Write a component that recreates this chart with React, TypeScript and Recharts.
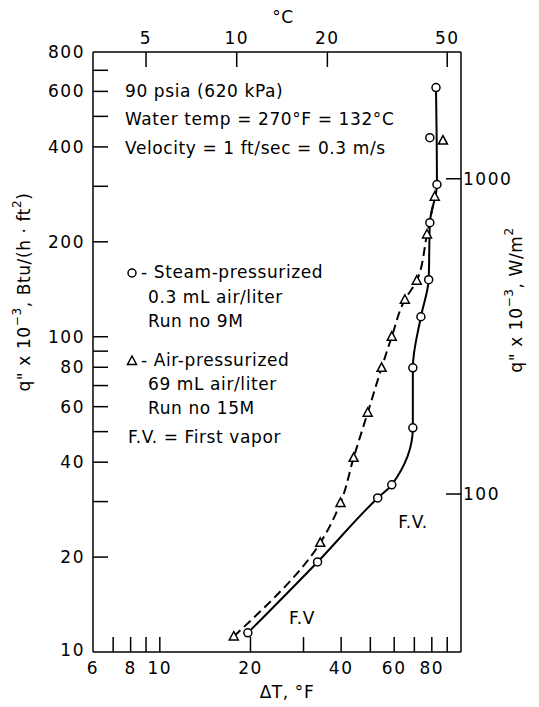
import React from 'react';
import { ComposedChart, Line, Scatter, XAxis, YAxis } from 'recharts';

// steam-pressurized run (circles), deltaT in F, q" x 10^-3 Btu/(h ft2)
const steamDT = [19.6, 33.4, 52.9, 58.9, 69.2, 69.2, 73.6, 78.1, 78.8, 83.2, 78.8, 82.6];
const steamQ = [11.5, 19.3, 30.8, 33.9, 51.4, 79.7, 115.7, 151.7, 230, 304, 428, 617];
// points the drawn steam curve passes through (off-curve point left out)
const steamCurveIdx = [0, 1, 2, 3, 4, 5, 6, 7, 8, 9, 11];

// air-pressurized run (triangles)
const airDT = [17.6, 34.1, 39.8, 44.0, 49.0, 54.5, 58.9, 65.1, 71.3, 77.1, 81.8, 87.1];
const airQ = [11.2, 22.2, 29.7, 41.3, 57.4, 79.7, 100, 131, 150.6, 211, 278, 419];
const airCurveIdx = [0, 1, 2, 3, 4, 5, 6, 7, 8, 9, 10];

const xTicks = [6, 7, 8, 9, 10, 20, 30, 40, 50, 60, 70, 80, 90];
const xLabels = [6, 8, 10, 20, 40, 60, 80];
const yTicks = [10, 20, 30, 40, 50, 60, 70, 80, 90, 100, 200, 300, 400, 500, 600, 700, 800];
const yLabels = [10, 20, 40, 60, 80, 100, 200, 400, 600, 800];
const cTicks = [5, 10, 20, 50];
const wTicks = [100, 1000];

const F_PER_C = 1.8;
const W_PER_BTU = 3.1546;

const steamPts = steamDT.map((x, i) => ({ x, y: steamQ[i] }));
const airPts = airDT.map((x, i) => ({ x, y: airQ[i] }));
const steamCurve = steamCurveIdx.map(i => steamPts[i]);
const airCurve = airCurveIdx.map(i => airPts[i]);

const L = 93, R = 461, T = 52, B = 652;
const FONT = '"DejaVu Sans", sans-serif';
const tickText = { fontFamily: FONT, fontSize: 17, letterSpacing: 1.5, fill: '#000' };

const Circ = (p: any) => (
  <circle cx={p.cx} cy={p.cy} r={4} fill="#fff" stroke="#000" strokeWidth={1.5} />
);
const Tri = (p: any) => (
  <path
    d={`M${p.cx},${p.cy - 5} L${p.cx + 4.5},${p.cy + 3.5} L${p.cx - 4.5},${p.cy + 3.5} Z`}
    fill="#fff" stroke="#000" strokeWidth={1.5}
  />
);
const Nothing = () => <g />;

const BottomTick = (p: any) => {
  const v = p.payload.value;
  return (
    <g>
      {v !== 6 && <line x1={p.x} x2={p.x} y1={B} y2={B - 15} stroke="#000" strokeWidth={1.5} />}
      {xLabels.includes(v) && (
        <text x={p.x} y={B + 16} textAnchor="middle" dominantBaseline="central" {...tickText}>{v}</text>
      )}
    </g>
  );
};

const TopTick = (p: any) => {
  const v = Math.round(p.payload.value / F_PER_C);
  return (
    <g>
      <line x1={p.x} x2={p.x} y1={T} y2={T + 15} stroke="#000" strokeWidth={1.5} />
      <text x={p.x} y={T - 14} textAnchor="middle" dominantBaseline="central" {...tickText}>{v}</text>
    </g>
  );
};

const LeftTick = (p: any) => {
  const v = p.payload.value;
  return (
    <g>
      {v !== 10 && v !== 800 && <line x1={L} x2={L + 15} y1={p.y} y2={p.y} stroke="#000" strokeWidth={1.5} />}
      {yLabels.includes(v) && (
        <text x={L - 8} y={v === 10 ? p.y - 2 : p.y} textAnchor="end" dominantBaseline="central" {...tickText}>{v}</text>
      )}
    </g>
  );
};

const RightTick = (p: any) => {
  const v = Math.round(p.payload.value * W_PER_BTU);
  return (
    <g>
      <line x1={R - 15} x2={R} y1={p.y} y2={p.y} stroke="#000" strokeWidth={1.5} />
      <text x={R + 2} y={p.y} textAnchor="start" dominantBaseline="central" {...tickText}>{v}</text>
    </g>
  );
};

const note = { fontFamily: FONT, fontSize: 17, letterSpacing: 0.6, fill: '#000' };

export default function App() {
  return (
    <div style={{ position: 'absolute', left: 0, top: 0, width: 539, height: 707, background: '#fff' }}>
      <ComposedChart width={539} height={707} margin={{ top: 22, right: 18, bottom: 25, left: 33 }}>
        <XAxis
          xAxisId="bottom" dataKey="x" type="number" scale="log" domain={[6, 100]} allowDataOverflow
          ticks={xTicks} interval={0} tickSize={0} tick={<BottomTick />} height={30}
          axisLine={{ stroke: '#000', strokeWidth: 1.5 }}
        />
        <XAxis
          xAxisId="top" dataKey="x" orientation="top" type="number" scale="log" domain={[6, 100]} allowDataOverflow
          ticks={cTicks.map(c => c * F_PER_C)} interval={0} tickSize={0} tick={<TopTick />} height={30}
          axisLine={{ stroke: '#000', strokeWidth: 1.5 }}
        />
        <YAxis
          yAxisId="left" dataKey="y" type="number" scale="log" domain={[10, 800]} allowDataOverflow
          ticks={yTicks} interval={0} tickSize={0} tick={<LeftTick />} width={60}
          axisLine={{ stroke: '#000', strokeWidth: 1.5 }}
        />
        <YAxis
          yAxisId="right" dataKey="y" orientation="right" type="number" scale="log" domain={[10, 800]} allowDataOverflow
          ticks={wTicks.map(w => w / W_PER_BTU)} interval={0} tickSize={0} tick={<RightTick />} width={60}
          axisLine={{ stroke: '#000', strokeWidth: 1.5 }}
        />
        {/* invisible series so the top (°C) and right (W/m2) axes are drawn */}
        <Scatter xAxisId="top" yAxisId="right" data={steamPts} shape={Nothing} isAnimationActive={false} />
        <Line
          xAxisId="bottom" yAxisId="left" data={airCurve} dataKey="y" type="monotoneY"
          stroke="#000" strokeWidth={2} strokeDasharray="9 5" dot={false} isAnimationActive={false}
        />
        <Line
          xAxisId="bottom" yAxisId="left" data={steamCurve} dataKey="y" type="monotoneY"
          stroke="#000" strokeWidth={2} dot={false} isAnimationActive={false}
        />
        <Scatter xAxisId="bottom" yAxisId="left" data={airPts} shape={Tri} isAnimationActive={false} />
        <Scatter xAxisId="bottom" yAxisId="left" data={steamPts} shape={Circ} isAnimationActive={false} />
      </ComposedChart>

      <svg width={539} height={707} style={{ position: 'absolute', left: 0, top: 0, pointerEvents: 'none' }}>
        <text x={283} y={17} textAnchor="middle" dominantBaseline="central" {...note}>°C</text>
        <text x={287} y={692} textAnchor="middle" dominantBaseline="central" {...note}>ΔT, °F</text>

        <text x={125} y={91} dominantBaseline="central" {...note}>90 psia (620 kPa)</text>
        <text x={125} y={119} dominantBaseline="central" {...note}>Water temp = 270°F = 132°C</text>
        <text x={125} y={148} dominantBaseline="central" {...note}>Velocity = 1 ft/sec = 0.3 m/s</text>

        <Circ cx={132} cy={273} />
        <text x={141} y={272} dominantBaseline="central" {...note}>- Steam-pressurized</text>
        <text x={148} y={297} dominantBaseline="central" {...note}>0.3 mL air/liter</text>
        <text x={148} y={321} dominantBaseline="central" {...note}>Run no 9M</text>

        <Tri cx={132} cy={361} />
        <text x={141} y={360} dominantBaseline="central" {...note}>- Air-pressurized</text>
        <text x={148} y={384} dominantBaseline="central" {...note}>69 mL air/liter</text>
        <text x={148} y={408} dominantBaseline="central" {...note}>Run no 15M</text>

        <text x={128} y={437} dominantBaseline="central" {...note}>F.V. = First vapor</text>

        <text x={413} y={522} textAnchor="middle" dominantBaseline="central" {...note}>F.V.</text>
        <text x={302} y={618} textAnchor="middle" dominantBaseline="central" {...note}>F.V</text>

        <text transform="translate(24,292) rotate(-90)" textAnchor="middle" dominantBaseline="central" {...note}>
          q" x 10<tspan dy={-7} fontSize={12}>−3</tspan><tspan dy={7}>,  Btu/(h · ft</tspan><tspan dy={-7} fontSize={12}>2</tspan><tspan dy={7}>)</tspan>
        </text>
        <text transform="translate(516,300) rotate(-90)" textAnchor="middle" dominantBaseline="central" {...note}>
          q" x 10<tspan dy={-7} fontSize={12}>−3</tspan><tspan dy={7}>,  W/m</tspan><tspan dy={-7} fontSize={12}>2</tspan>
        </text>
      </svg>
    </div>
  );
}
